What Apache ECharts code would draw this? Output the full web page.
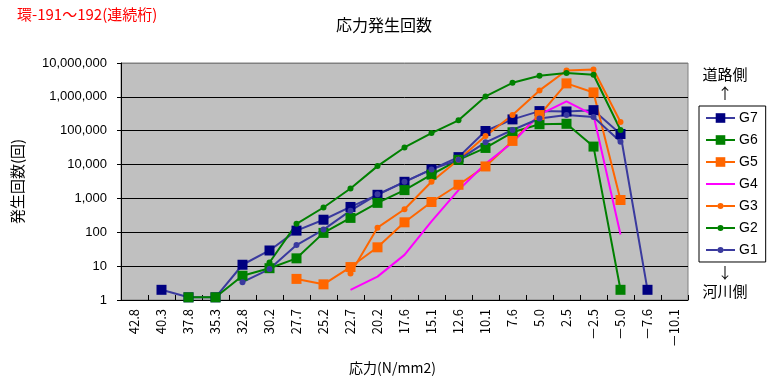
<!DOCTYPE html>
<html>
<head>
<meta charset="utf-8">
<script src="https://cdn.jsdelivr.net/npm/echarts@6/dist/echarts.min.js"></script>
<style>
  html, body { margin: 0; padding: 0; background: #ffffff; }
  #chart { width: 768px; height: 380px; }
</style>
</head>
<body>
<div id="chart"></div>
<script>
// Stress ranges (N/mm2), left to right
const categories = ['42.8','40.3','37.8','35.3','32.8','30.2','27.7','25.2','22.7','20.2','17.6',
  '15.1','12.6','10.1','7.6','5.0','2.5','－2.5','－5.0','－7.6','－10.1'];

// Occurrence counts per girder
const g7 = [null, 2, 1.2, 1.2, 11, 29, 112, 235, 560, 1280, 3100, 7200, 16600, 98000, 216000, 380000, 370000, 405000, 80000, 2, null];
const g6 = [null, null, 1.2, 1.2, 5.2, 8.7, 17, 96, 266, 740, 1760, 5050, 13800, 31000, 90000, 155000, 160000, 34000, 2, null, null];
const g5 = [null, null, null, null, null, null, 4.2, 2.9, 9.4, 36, 197, 785, 2530, 8800, 50000, 290000, 2500000, 1350000, 900, null, null];
const g4 = [null, null, null, null, null, null, null, null, 2, 4.9, 21.5, 210, 1760, 10600, 45000, 300000, 740000, 290000, 86, null, null];
const g3 = [null, null, null, null, null, null, null, null, 6.1, 137, 480, 3100, 13800, 70000, 290000, 1550000, 6000000, 6400000, 180000, null, null];
const g2 = [null, null, null, null, null, 12.8, 178, 540, 1960, 9000, 32000, 85000, 203000, 1030000, 2600000, 4200000, 5100000, 4500000, 105000, null, null];
const g1 = [null, null, null, null, 3.35, 8.2, 42, 120, 435, 1320, 3100, 7200, 13800, 45500, 105000, 230000, 290000, 255000, 47000, null, null];

const seriesNames = ['G7', 'G6', 'G5', 'G4', 'G3', 'G2', 'G1'];

const FONT_LATIN = '"Liberation Sans", "Noto Sans CJK JP", sans-serif';
const FONT_JP = '"Noto Sans CJK JP", sans-serif';

// Legend icons: a 2px line with a small dot, and a plain 2px line
const DOT_ICON = 'path://M0,5H11.5V7H0Z M17.5,5H29V7H17.5Z M11.5,6a3,3 0 1,0 6,0a3,3 0 1,0 -6,0Z';
const LINE_ICON = 'path://M0,0H29V2H0Z';

function legendEntry(name) {
  if (name === 'G4') return { name: name, icon: LINE_ICON };
  if (name === 'G3' || name === 'G2' || name === 'G1') return { name: name, icon: DOT_ICON };
  return { name: name };
}

function lineSeries(name, data, lineColor, markColor, symbol, size) {
  return {
    name: name,
    type: 'line',
    data: data,
    symbol: symbol,
    symbolSize: size,
    showSymbol: symbol !== 'none',
    lineStyle: { color: lineColor, width: 2 },
    itemStyle: { color: markColor, borderWidth: 0 },
    emphasis: { disabled: true },
    animation: false
  };
}

const chart = echarts.init(document.getElementById('chart'), null, { renderer: 'canvas' });

chart.setOption({
  backgroundColor: '#ffffff',
  animation: false,
  grid: {
    left: 121, right: 80, top: 63, bottom: 77,
    show: true, backgroundColor: '#c0c0c0', borderColor: '#808080', borderWidth: 1
  },
  title: {
    text: '応力発生回数',
    left: 'center',
    top: 12,
    textStyle: { fontFamily: FONT_JP, fontSize: 16, fontWeight: 'normal', color: '#000' }
  },
  legend: {
    orient: 'vertical',
    left: 699,
    top: 106,
    width: 62,
    padding: [5, 8, 5, 6],
    itemWidth: 29,
    itemHeight: 12,
    itemGap: 8,
    backgroundColor: '#ffffff',
    borderColor: '#000000',
    borderWidth: 1,
    borderRadius: 0,
    data: seriesNames.map(legendEntry),
    textStyle: { fontFamily: FONT_LATIN, fontSize: 14, color: '#000', padding: [0, 0, 0, -1] }
  },
  xAxis: {
    type: 'category',
    data: categories,
    boundaryGap: true,
    axisLine: { lineStyle: { color: '#000', width: 1 } },
    axisTick: { show: true, inside: true, length: 5, lineStyle: { color: '#000' } },
    axisLabel: { rotate: 90, margin: 9, fontFamily: FONT_JP, fontSize: 13, color: '#000' },
    splitLine: { show: false },
    name: '応力(N/mm2)',
    nameLocation: 'middle',
    nameGap: 61,
    nameTextStyle: { fontFamily: FONT_JP, fontSize: 14, color: '#000', padding: [0, 24, 0, 0] }
  },
  yAxis: {
    type: 'log',
    logBase: 10,
    min: 1,
    max: 10000000,
    splitNumber: 7,
    axisLine: { show: true, lineStyle: { color: '#000', width: 1 } },
    axisTick: { show: true, inside: false, length: 4, lineStyle: { color: '#000' } },
    axisLabel: {
      margin: 14,
      fontFamily: FONT_LATIN, fontSize: 13, color: '#000',
      formatter: function (v) { return Math.round(v).toLocaleString('en-US'); }
    },
    splitLine: {
      show: true,
      lineStyle: { color: ['#000', '#000', '#000', '#000', '#000', '#000', '#000', '#808080'], width: 1 }
    },
    name: '発生回数(回)',
    nameLocation: 'middle',
    nameGap: 96,
    nameRotate: 90,
    nameTextStyle: { fontFamily: FONT_JP, fontSize: 15, color: '#000' }
  },
  graphic: [
    { type: 'text', left: 17, top: 7,
      style: { text: '環-191～192(連続桁)', fill: '#ff0000', font: '15px "Noto Sans CJK JP", sans-serif' } },
    { type: 'text', x: 725, y: 74,
      style: { text: '道路側', fill: '#000', align: 'center', verticalAlign: 'middle', font: '15px "Noto Sans CJK JP", sans-serif' } },
    { type: 'text', x: 725, y: 93,
      style: { text: '↑', fill: '#000', align: 'center', verticalAlign: 'middle', font: '15px "Noto Sans CJK JP", sans-serif' } },
    { type: 'text', x: 725, y: 272,
      style: { text: '↓', fill: '#000', align: 'center', verticalAlign: 'middle', font: '15px "Noto Sans CJK JP", sans-serif' } },
    { type: 'text', x: 725, y: 291,
      style: { text: '河川側', fill: '#000', align: 'center', verticalAlign: 'middle', font: '15px "Noto Sans CJK JP", sans-serif' } }
  ],
  series: [
    lineSeries('G7', g7, '#3a3a9e', '#000080', 'rect', 10),
    lineSeries('G6', g6, '#008000', '#008000', 'rect', 10),
    lineSeries('G5', g5, '#ff6600', '#ff6600', 'rect', 10),
    lineSeries('G4', g4, '#ff00ff', '#ff00ff', 'none', 0),
    lineSeries('G3', g3, '#ff6600', '#ff6600', 'circle', 6),
    lineSeries('G2', g2, '#008000', '#008000', 'circle', 6),
    lineSeries('G1', g1, '#3a3a9e', '#3a3a9e', 'circle', 6)
  ]
});
</script>
</body>
</html>
